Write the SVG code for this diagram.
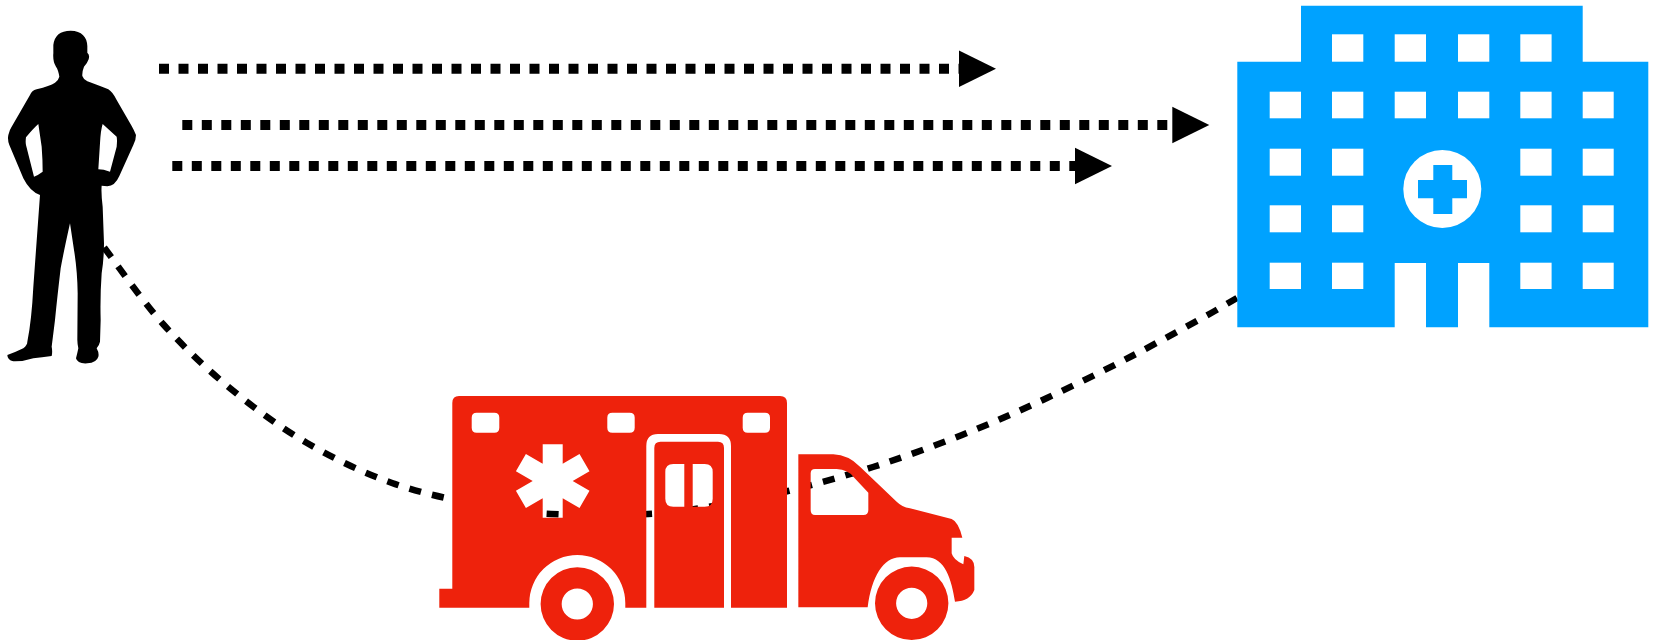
<svg xmlns="http://www.w3.org/2000/svg" width="1655" height="640" viewBox="0 0 1655 640">
<style>
.bg{fill:#fff}
.red{fill:#ee220c;fill-rule:evenodd}
.blue{fill:#00a2ff}
.hole{fill:#fff}
.person{fill:#000;fill-rule:evenodd}
.dot{fill:none;stroke:#000;stroke-width:10;stroke-dasharray:10 9.5}
.dash{fill:none;stroke:#000;stroke-width:6.5;stroke-dasharray:12 11.3;stroke-dashoffset:-2.2}
</style>
<defs>
<marker id="head" markerUnits="userSpaceOnUse" markerWidth="40" markerHeight="38" viewBox="0 0 40 38" refX="2" refY="19" orient="auto">
<polygon points="0,0.7 37,19 0,37.3" fill="#000"/>
</marker>
</defs>
<rect class="bg" width="1655" height="640"/>
<g id="connectors">
<path class="dot" d="M159 68.7H961" marker-end="url(#head)"/>
<path class="dot" d="M182.3 125H1174.3" marker-end="url(#head)"/>
<path class="dot" d="M172.3 166H1077" marker-end="url(#head)"/>
<path class="dash" d="M103 246C113 259 141.7 300.2 163 324C184.3 347.8 207 369.2 231 389C255 408.8 280.2 427.3 307 443C333.8 458.7 363.2 472.7 392 483C420.8 493.3 453.5 499.8 480 505C506.5 510.2 523 512.5 551 514C579 515.5 619.8 515.5 648 514C676.2 512.5 696.7 508.8 720 505C743.3 501.2 762.5 497.3 788 491C813.5 484.7 844 476.3 873 467C902 457.7 933 446.5 962 435C991 423.5 1018.7 411.2 1047 398C1075.3 384.8 1104.5 370.3 1132 356C1159.5 341.7 1195.5 321.7 1213 312L1237 298"/>
</g>
<g id="person">
<path class="person" transform="translate(0 20) scale(.33333)" d="M212 32C245 32 262 52 262 78L262 98Q270 104 266 118Q262 130 252 140Q246 155 247 168Q250 178 262 184Q300 198 325 208Q338 216 350 240L395 318Q402 330 408 345Q408 360 400 375L358 468Q345 498 322 499L305 497Q303 520 308 560L312 670Q312 715 305 760Q300 830 302 900L300 965Q298 975 290 985Q298 1000 295 1010Q290 1028 262 1030Q232 1032 228 1015Q232 1000 235 985Q232 970 232 960L233 820Q232 750 222 690L210 610Q190 700 182 745Q172 830 165 900L155 980Q158 995 155 1008Q125 1012 100 1015Q70 1025 40 1024Q22 1020 22 1005Q50 995 70 985Q82 975 82 965Q95 900 100 800L120 525Q90 515 70 475L28 375Q22 360 25 345Q28 330 35 320L90 225Q95 212 110 208Q150 198 165 188Q175 182 178 170Q175 150 168 140Q158 125 160 100L160 75Q165 32 212 32ZM308 312Q302 330 300 370L295 448Q310 448 330 455L350 380Q352 360 350 350ZM115 312Q100 325 78 352Q76 365 78 375L102 470Q115 465 128 455Q128 420 125 380Z"/>
</g>
<g id="ambulance">
<path class="red" d="M439.3 607.7V588.7H452.3V403Q452.3 396 459 396H780Q787 396 787 403V607.7H731V446Q731 434 719 434H658Q646.3 434 646.3 446V607.7H625.3V603A48 48 0 0 0 529.3 603V607.7ZM476.7 412.7H494.3Q499.3 412.7 499.3 417.7V427.7Q499.3 432.7 494.3 432.7H476.7Q471.7 432.7 471.7 427.7V417.7Q471.7 412.7 476.7 412.7ZM612.3 412.7H629.7Q634.7 412.7 634.7 417.7V427.7Q634.7 432.7 629.7 432.7H612.3Q607.3 432.7 607.3 427.7V417.7Q607.3 412.7 612.3 412.7ZM747.7 412.7H765Q770 412.7 770 417.7V427.7Q770 432.7 765 432.7H747.7Q742.7 432.7 742.7 427.7V417.7Q742.7 412.7 747.7 412.7ZM542.7 444.3H562.7V463.7L579.5 454L589.5 471.3L572.7 481L589.5 490.7L579.5 508L562.7 498.3V517.7H542.7V498.3L525.9 508L515.9 490.7L532.7 481L515.9 471.3L525.9 454L542.7 463.7Z"/>
<path class="red" d="M654.3 607.7V448Q654.3 441.7 660.5 441.7H718Q724 441.7 724 448V607.7ZM673.3 464H684.3V506.7H673.3Q665.3 506.7 665.3 498.7V472Q665.3 464 673.3 464ZM692.7 464H704.7Q712.7 464 712.7 472V498.7Q712.7 506.7 704.7 506.7H692.7Z"/>
<path class="red" transform="translate(720 420) scale(.33333)" d="M235 103H340Q385 105 420 140L530 245Q545 260 570 265L695 297Q715 305 727 353H695V400Q700 420 730 433L733 408Q765 415 763 445V510Q750 543 705 545C695 480 675 412 620 412H540C490 412 455 470 443 562H235ZM285 147H350Q385 150 400 170L445 218V270Q445 285 430 285H285Q272 285 272 270V160Q272 147 285 147Z"/>
<path class="red" d="M577.3 567.3A36.7 36.7 0 1 0 577.3 640.7A36.7 36.7 0 1 0 577.3 567.3ZM577.3 588.4A15.6 15.6 0 1 1 577.3 619.6A15.6 15.6 0 1 1 577.3 588.4Z"/>
<path class="red" d="M911.7 566.6A36.7 36.7 0 1 0 911.7 640A36.7 36.7 0 1 0 911.7 566.6ZM911.7 587.7A15.6 15.6 0 1 1 911.7 618.9A15.6 15.6 0 1 1 911.7 587.7Z"/>
</g>
<g id="hospital">
<path class="blue" d="M1301 5.7H1582.7V61.7H1648.3V327.3H1489.3V263H1458V327.3H1426V263H1394.7V327.3H1237.3V61.7H1301Z"/>
<g class="hole">
<rect x="1332" y="34.3" width="31.3" height="27.4"/><rect x="1394.7" y="34.3" width="31.3" height="27.4"/><rect x="1458" y="34.3" width="31.3" height="27.4"/><rect x="1520.3" y="34.3" width="31.3" height="27.4"/>
<rect x="1269.7" y="91.7" width="31.3" height="26.6"/><rect x="1332" y="91.7" width="31.3" height="26.6"/><rect x="1394.7" y="91.7" width="31.3" height="26.6"/><rect x="1458" y="91.7" width="31.3" height="26.6"/><rect x="1520.3" y="91.7" width="31.3" height="26.6"/><rect x="1582.7" y="91.7" width="31" height="26.6"/>
<rect x="1269.7" y="148.7" width="31.3" height="27"/><rect x="1332" y="148.7" width="31.3" height="27"/><rect x="1520.3" y="148.7" width="31.3" height="27"/><rect x="1582.7" y="148.7" width="31" height="27"/>
<rect x="1269.7" y="205.3" width="31.3" height="27"/><rect x="1332" y="205.3" width="31.3" height="27"/><rect x="1520.3" y="205.3" width="31.3" height="27"/><rect x="1582.7" y="205.3" width="31" height="27"/>
<rect x="1269.7" y="262.7" width="31.3" height="26.3"/><rect x="1332" y="262.7" width="31.3" height="26.3"/><rect x="1520.3" y="262.7" width="31.3" height="26.3"/><rect x="1582.7" y="262.7" width="31" height="26.3"/>
<circle cx="1442.3" cy="189" r="39"/>
</g>
<path class="blue" d="M1433.3 165H1452.3V180H1467V198.3H1452.3V214H1433.3V198.3H1418V180H1433.3Z"/>
</g>
</svg>
